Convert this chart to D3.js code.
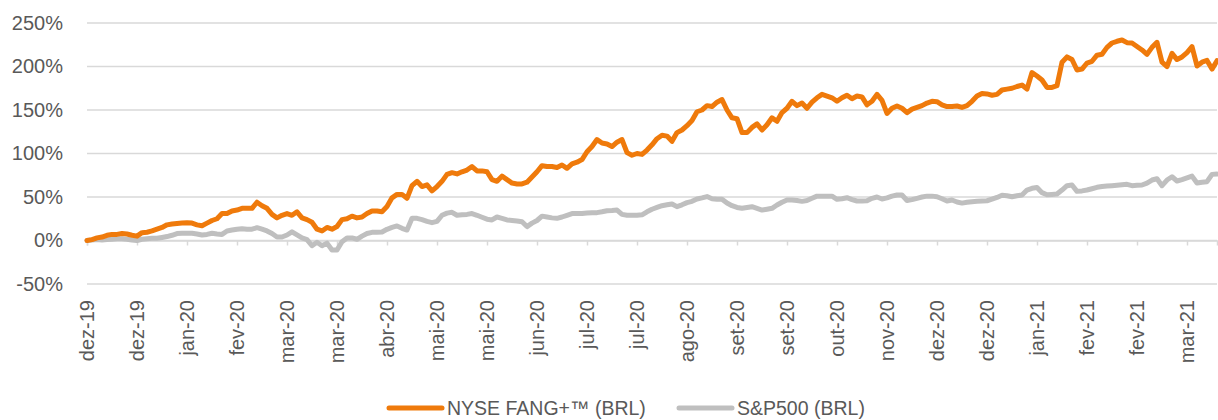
<!DOCTYPE html>
<html>
<head>
<meta charset="utf-8">
<script src="https://cdn.jsdelivr.net/npm/d3@7"></script>
<style>
  html, body { margin: 0; padding: 0; background: #fff; overflow: hidden; }
  #chart { width: 1218px; height: 420px; }
  #chart svg { display: block; }
  text { font-family: "Liberation Sans", Arial, sans-serif; fill: #595959; }
</style>
</head>
<body>
<div id="chart"></div>
<script>
// ---- Data (cumulative return, %, one point every few trading days) ----
const tickLabels = ['dez-19', 'dez-19', 'jan-20', 'fev-20', 'mar-20', 'mar-20', 'abr-20', 'mai-20',
  'mai-20', 'jun-20', 'jul-20', 'jul-20', 'ago-20', 'set-20', 'set-20', 'out-20', 'nov-20',
  'dez-20', 'dez-20', 'jan-21', 'fev-21', 'fev-21', 'mar-21'];
const tickEvery = 10;

const fang = [
  0, 1, 3, 4, 6, 7, 7, 8, 7.5, 6,
  5, 9, 9.5, 11, 13, 15, 18, 19, 19.5, 20,
  20.5, 20, 18, 17, 20, 23, 25, 31, 31, 34,
  35, 37, 37, 37, 44, 40, 37, 30, 26, 29,
  31, 29, 33, 26, 24, 21, 13, 11, 15, 13,
  16, 24, 25, 28, 26, 27, 31, 34, 34, 33,
  39, 49, 53, 53, 48.5, 63, 68, 62, 64, 57,
  62, 68, 76, 78, 76.5, 79, 81, 85, 80, 80,
  79, 70, 68, 74, 70, 66, 65, 65, 67, 73,
  79, 86, 85, 85, 84, 86.8, 83, 88, 90, 93,
  102, 108, 116, 112, 111, 108, 113, 116, 101, 98,
  100, 99, 104, 110, 117, 121, 120, 114, 124, 127,
  132, 138, 148, 150, 155, 154, 159, 162, 150, 141,
  140, 124, 124, 130, 134, 127, 133, 141, 137, 147,
  152, 160, 155, 158, 152, 159, 164, 168, 166, 164,
  160, 164, 167, 163, 166, 165, 156, 160, 168, 161,
  146, 152, 154.6, 152, 147, 151, 153, 155, 158, 160,
  159.5, 156, 154, 154, 154.6, 153, 155, 160, 166, 169,
  168.5, 167, 168, 173, 174, 175, 177, 178.7, 174, 193,
  189, 184.5, 176, 176, 178, 205, 211, 208, 196, 197,
  204, 206, 213, 214, 222, 227, 229, 230.5, 227.4, 227,
  223, 219, 214, 222, 227.8, 205, 200, 215, 208, 211,
  216, 222.8, 200.6, 205, 207, 197, 206.7
];

const sp500 = [
  0, 0.5, 1, 0.5, 1, 1.5, 2, 2, 1.5, 0.5,
  0, 1.4, 2, 2.5, 2.5, 3.5, 4.5, 6, 8, 8.3,
  8.3, 8.3, 7.5, 6.3, 7, 8.3, 7.5, 7, 11, 12,
  13, 13.6, 13, 13, 14.7, 13, 11, 8, 4, 4,
  6.3, 10, 6.5, 3, 1, -6, -2, -6, -3, -11,
  -11, -1.4, 3, 3, 1.4, 5, 8, 9.4, 9.4, 9.8,
  12.9, 15, 16.7, 14, 12, 25.5, 25.5, 24, 22, 20.5,
  22, 29, 31.5, 32.4, 29, 29.5, 30, 31, 29, 26.7,
  24.5, 23.6, 27, 25.5, 23.6, 23, 22.5, 21.6, 16, 20,
  23, 28, 27, 26, 25.5, 27, 29, 31, 31, 31,
  31.5, 32, 32, 33, 34.2, 34.5, 35, 30, 29, 29,
  29, 29.5, 33, 35.9, 38, 40, 41, 42, 38.9, 41,
  43.5, 45, 47.7, 49, 50.5, 48, 47.4, 47.4, 43, 40,
  38, 37, 38, 38.9, 37, 35, 36, 37, 40.8, 44,
  46.6, 46.6, 46, 45, 46, 48.5, 51, 51, 51, 51,
  47.4, 48, 49.2, 47, 45.4, 45.5, 45.7, 48.5, 50, 47.7,
  49, 51, 52.3, 52.3, 46, 47, 48.5, 50, 51, 51,
  50.3, 48, 45.4, 46.6, 44.3, 43, 44, 44.6, 45, 45.3,
  45.7, 47.5, 49.5, 52, 51.5, 50.3, 51.5, 52.3, 58, 60,
  61, 55, 52.5, 53, 53.4, 58, 63, 63.8, 56.5, 57,
  58, 59.5, 61.1, 62, 62.6, 63, 63.5, 64, 64.6, 63,
  63.4, 63.8, 66, 69.5, 71, 63, 69.5, 73.3, 68.4, 70,
  72, 74, 66, 67, 67.6, 76, 76.4
];

const yTicks = [-50, 0, 50, 100, 150, 200, 250];
const seriesNames = ['NYSE FANG+™ (BRL)', 'S&P500 (BRL)'];
const seriesColors = ['#EF7A0B', '#BFBFBF'];

// ---- Layout ----
const width = 1218, height = 420;
const margin = { top: 23, right: 1, bottom: 136, left: 87 };
const innerWidth = width - margin.left - margin.right;
const innerHeight = height - margin.top - margin.bottom;

const svg = d3.select('#chart').append('svg')
  .attr('width', width).attr('height', height);
const g = svg.append('g').attr('transform', `translate(${margin.left},${margin.top})`);

const x = d3.scaleLinear().domain([0, fang.length - 1]).range([0, innerWidth]);
const y = d3.scaleLinear().domain([-50, 250]).range([innerHeight, 0]);

// ---- Grid ----
g.append('g')
  .selectAll('line').data(yTicks).join('line')
  .attr('x1', 0).attr('x2', innerWidth)
  .attr('y1', d => y(d)).attr('y2', d => y(d))
  .attr('stroke', '#D9D9D9').attr('stroke-width', 1.5);

// ---- Y axis labels ----
g.append('g')
  .call(d3.axisLeft(y).tickValues(yTicks).tickSize(0).tickPadding(24).tickFormat(d => d + '%'))
  .call(a => a.select('.domain').remove())
  .selectAll('text')
  .attr('font-size', '20px')
  .attr('fill', '#595959');

// ---- X axis on the zero line (ticks only, labels drawn below the plot) ----
const tickIdx = tickLabels.map((_, i) => i * tickEvery);
g.append('g')
  .attr('transform', `translate(0,${y(0)})`)
  .call(d3.axisBottom(x).tickValues(tickIdx).tickSize(5))
  .call(a => a.selectAll('.tick text').remove())
  .call(a => a.select('.domain').attr('stroke', '#D9D9D9').attr('stroke-width', 1.5))
  .call(a => a.selectAll('.tick line').attr('stroke', '#D9D9D9').attr('stroke-width', 1.5));

// Month labels, rotated
g.append('g')
  .selectAll('text').data(tickIdx).join('text')
  .attr('transform', d => `translate(${x(d) + 7},${innerHeight + 16}) rotate(-90)`)
  .attr('text-anchor', 'end')
  .attr('font-size', '20px')
  .text((d, i) => tickLabels[i]);

// ---- Lines ----
const line = d3.line()
  .x((_, i) => x(i))
  .y(d => y(d));

[[sp500, seriesColors[1]], [fang, seriesColors[0]]].forEach(([vals, color]) => {
  g.append('path')
    .datum(vals)
    .attr('d', line)
    .attr('fill', 'none')
    .attr('stroke', color)
    .attr('stroke-width', 5)
    .attr('stroke-linejoin', 'round')
    .attr('stroke-linecap', 'round');
});

// ---- Legend ----
const legend = svg.append('g').attr('transform', 'translate(0,408)');
const legendX = [389, 679];
seriesNames.forEach((name, i) => {
  legend.append('line')
    .attr('x1', legendX[i]).attr('x2', legendX[i] + 53)
    .attr('y1', 0).attr('y2', 0)
    .attr('stroke', seriesColors[i]).attr('stroke-width', 5)
    .attr('stroke-linecap', 'round');
  legend.append('text')
    .attr('x', legendX[i] + 58).attr('y', 7)
    .attr('font-size', '19.5px')
    .text(name);
});
</script>
</body>
</html>
